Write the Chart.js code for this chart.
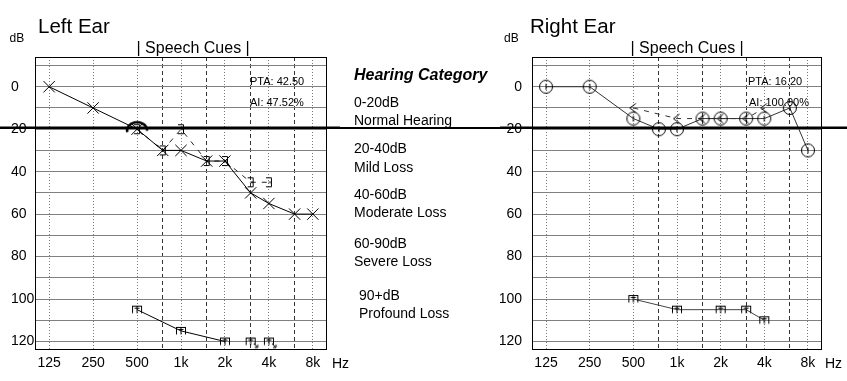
<!DOCTYPE html>
<html><head><meta charset="utf-8">
<script src="https://cdn.jsdelivr.net/npm/chart.js@4.4.1/dist/chart.umd.min.js"></script>
<style>
html,body{margin:0;padding:0;background:#fff;width:847px;height:381px;overflow:hidden;font-family:"Liberation Sans",Arial,sans-serif;}
#wrap{position:relative;width:847px;height:381px;}
.t{position:absolute;line-height:1;white-space:nowrap;color:#000;}
canvas{position:absolute;top:0;}
.sm{font-size:14px;}
</style></head><body><div id="wrap">
<canvas id="left" width="340" height="381" style="left:0;width:340px;height:381px"></canvas>
<canvas id="right" width="347" height="381" style="left:500px;width:347px;height:381px"></canvas>
<div class="t" style="left:38px;top:16px;font-size:20.5px">Left Ear</div>
<div class="t" style="left:530px;top:16px;font-size:20.5px">Right Ear</div>
<div class="t" style="left:9.5px;top:32px;font-size:12px">dB</div>
<div class="t" style="left:504px;top:32px;font-size:12px">dB</div>
<div class="t" style="left:136.5px;top:39.5px;font-size:16px">| Speech Cues |</div>
<div class="t" style="left:630.5px;top:39.5px;font-size:16px">| Speech Cues |</div>
<div class="t" style="left:250px;top:76px;font-size:11px">PTA: 42.50</div>
<div class="t" style="left:250px;top:97px;font-size:11px">AI: 47.52%</div>
<div class="t" style="left:748px;top:76px;font-size:11px">PTA: 16.20</div>
<div class="t" style="left:749px;top:97px;font-size:11px">AI: 100.00%</div>
<div class="t" style="left:354px;top:66.5px;font-size:16px;font-weight:bold;font-style:italic">Hearing Category</div>
<div class="t sm" style="left:354px;top:95px">0-20dB</div>
<div class="t sm" style="left:354px;top:113px">Normal Hearing</div>
<div class="t sm" style="left:354px;top:141px">20-40dB</div>
<div class="t sm" style="left:354px;top:160px">Mild Loss</div>
<div class="t sm" style="left:354px;top:187px">40-60dB</div>
<div class="t sm" style="left:354px;top:205px">Moderate Loss</div>
<div class="t sm" style="left:354px;top:236px">60-90dB</div>
<div class="t sm" style="left:354px;top:254px">Severe Loss</div>
<div class="t sm" style="left:359px;top:288px">90+dB</div>
<div class="t sm" style="left:359px;top:306px">Profound Loss</div>
<div class="t sm" style="left:332px;top:356px">Hz</div>
<div class="t sm" style="left:825px;top:356px">Hz</div>
<div style="position:absolute;left:340px;width:160px;top:126.5px;height:2.5px;background:#000"></div>
</div>
<script>
// ---- data ----
const freqs = [125, 250, 500, 750, 1000, 1500, 2000, 3000, 4000, 6000, 8000];
const octaveTicks = [125, 250, 500, 1000, 2000, 4000, 8000];
const octaveLabels = ['125', '250', '500', '1k', '2k', '4k', '8k'];
const halfOctaveTicks = [750, 1500, 3000, 6000];
const dbTicks = [-10, 0, 10, 20, 30, 40, 50, 60, 70, 80, 90, 100, 110, 120];
const dbLabelled = [0, 20, 40, 60, 80, 100, 120];
const normalLimit = [20];

const leftAir = [0, 10, 20, 30, 30, 35, 35, 50, 55, 60, 60];
const leftBoneFreqs = [500, 750, 1000, 1500, 2000, 3000, 4000];
const leftBone = [20, 30, 20, 35, 35, 45, 45];
const leftUclFreqs = [500, 1000, 2000];
const leftUcl = [105, 115, 120];
const leftNrFreqs = [3000, 4000];
const leftNr = [120, 120];
const leftMarkFreqs = [500];
const leftMark = [20];

const rightAir = [0, 0, 15, 20, 20, 15, 15, 15, 15, 10, 30];
const rightBoneFreqs = [500, 1000, 1500, 2000, 3000, 4000];
const rightBone = [10, 15, 15, 15, 15, 10];
const rightUclFreqs = [500, 1000, 2000, 3000, 4000];
const rightUcl = [100, 105, 105, 105, 110];

// ---- markers ----
function mk(w, h, draw) {
  const c = document.createElement('canvas'); c.width = w; c.height = h;
  const g = c.getContext('2d'); g.strokeStyle = '#000'; g.lineWidth = 1; draw(g); return c;
}
const bracketM = mk(10, 12, g => { g.beginPath(); g.moveTo(2, 1.5); g.lineTo(7.5, 1.5); g.lineTo(7.5, 10.5); g.lineTo(2, 10.5); g.moveTo(4.5, 6); g.lineTo(7.5, 6); g.stroke(); });
const ltM = mk(12, 12, g => { g.beginPath(); g.moveTo(8.5, 1.5); g.lineTo(2.5, 6); g.lineTo(8.5, 10.5); g.stroke(); });
function drawUcl(g, cx, cy) {
  g.beginPath(); g.moveTo(cx - 5, cy - 3.5); g.lineTo(cx + 5, cy - 3.5);
  g.moveTo(cx - 4.5, cy - 3.5); g.lineTo(cx - 4.5, cy + 3.5);
  g.moveTo(cx, cy - 3.5); g.lineTo(cx, cy + 3.5);
  g.moveTo(cx + 4.5, cy - 3.5); g.lineTo(cx + 4.5, cy + 3.5);
  g.moveTo(cx - 2.5, cy - 1.5); g.lineTo(cx + 2.5, cy - 1.5); g.stroke();
}
const uclM = mk(12, 10, g => drawUcl(g, 6, 5));
const nrM = mk(24, 20, g => { drawUcl(g, 12, 10); g.beginPath(); g.moveTo(15, 12); g.lineTo(19, 16); g.lineTo(16, 16); g.moveTo(19, 16); g.lineTo(19, 13); g.stroke(); });
const circM = mk(16, 16, g => { g.beginPath(); g.arc(8, 8, 6.5, 0, Math.PI * 2); g.moveTo(8, 5); g.lineTo(8, 11); g.stroke(); });
const arcM = mk(26, 24, g => { g.lineWidth = 2.5; g.beginPath(); g.ellipse(13, 13, 10, 8, 0, Math.PI * 0.92, Math.PI * 2.02); g.stroke(); });

const pts = (xs, ys) => xs.map((x, i) => ({ x, y: ys[i] }));
const FAM = '"Liberation Sans", Arial, sans-serif';

const framePlugin = {
  id: 'frame',
  beforeDatasetsDraw(chart) {
    const { ctx, chartArea: a } = chart;
    ctx.save(); ctx.strokeStyle = '#000'; ctx.lineWidth = 1;
    ctx.strokeRect(Math.round(a.left) + 0.5, Math.round(a.top) + 0.5, Math.round(a.right - a.left) - 1, Math.round(a.bottom - a.top) - 1);
    ctx.restore();
  },
  afterDatasetsDraw(chart) {
    const { ctx } = chart;
    const y = chart.scales.y.getPixelForValue(normalLimit[0]) - 1.5;
    ctx.save(); ctx.strokeStyle = '#000'; ctx.lineWidth = 2.5;
    ctx.beginPath(); ctx.moveTo(0, y); ctx.lineTo(chart.width, y); ctx.stroke(); ctx.restore();
  }
};

function makeChart(id, datasets, padding, yWidth, crossAlign, yPad) {
  return new Chart(document.getElementById(id), {
    type: 'line',
    data: { datasets },
    options: {
      responsive: false, animation: false, devicePixelRatio: 1,
      layout: { padding },
      plugins: { legend: { display: false }, tooltip: { enabled: false } },
      elements: { line: { tension: 0, fill: false } },
      scales: {
        x: {
          type: 'logarithmic', min: 100, max: 10000, position: 'bottom',
          afterBuildTicks: s => { s.ticks = octaveTicks.map(v => ({ value: v })); },
          afterFit: s => { s.height = 31; },
          ticks: { callback: v => { const i = octaveTicks.indexOf(v); return i >= 0 ? octaveLabels[i] : ''; }, font: { size: 14, family: FAM }, color: '#000', padding: 5, autoSkip: false, maxRotation: 0 },
          grid: { color: '#7a7a7a', drawTicks: false },
          border: { display: false, dash: [1, 2] }
        },
        x2: {
          type: 'logarithmic', min: 100, max: 10000, position: 'bottom',
          afterBuildTicks: s => { s.ticks = halfOctaveTicks.map(v => ({ value: v })); },
          afterFit: s => { s.height = 0; },
          ticks: { display: false },
          grid: { color: '#333', drawTicks: false },
          border: { display: false, dash: [4, 3] }
        },
        y: {
          type: 'linear', reverse: true, min: -14, max: 124,
          afterBuildTicks: s => { s.ticks = dbTicks.map(v => ({ value: v })); },
          afterFit: s => { s.width = yWidth; },
          ticks: { callback: v => dbLabelled.includes(v) ? String(v) : '', crossAlign, padding: yPad, font: { size: 14, family: FAM }, color: '#000', autoSkip: false },
          grid: { color: '#808080', drawTicks: false },
          border: { display: false }
        }
      }
    },
    plugins: [framePlugin]
  });
}

makeChart('left', [
  { data: pts(freqs, leftAir), borderColor: '#000', borderWidth: 1, pointStyle: 'crossRot', pointRadius: 8, pointBorderColor: '#000', pointBorderWidth: 1 },
  { data: pts(leftBoneFreqs, leftBone), borderColor: '#222', borderWidth: 1, borderDash: [5, 6], pointStyle: bracketM, pointRadius: 6 },
  { data: pts(leftUclFreqs, leftUcl), borderColor: '#000', borderWidth: 1, pointStyle: uclM, pointRadius: 6 },
  { data: pts(leftNrFreqs, leftNr), showLine: false, pointStyle: nrM, pointRadius: 6 },
  { data: pts(leftMarkFreqs, leftMark), showLine: false, pointStyle: arcM, pointRadius: 6 }
], { left: 11, right: 13, top: 57, bottom: 0 }, 24, 'far', 0);

makeChart('right', [
  { data: pts(freqs, rightAir), borderColor: '#333', borderWidth: 1, pointStyle: circM, pointRadius: 7 },
  { data: pts(rightBoneFreqs, rightBone), borderColor: '#333', borderWidth: 1, borderDash: [5, 6], pointStyle: ltM, pointRadius: 6 },
  { data: pts(rightUclFreqs, rightUcl), borderColor: '#444', borderWidth: 1, pointStyle: uclM, pointRadius: 6 }
], { left: 0, right: 25, top: 57, bottom: 0 }, 32, 'near', 10);
</script>
</body></html>
